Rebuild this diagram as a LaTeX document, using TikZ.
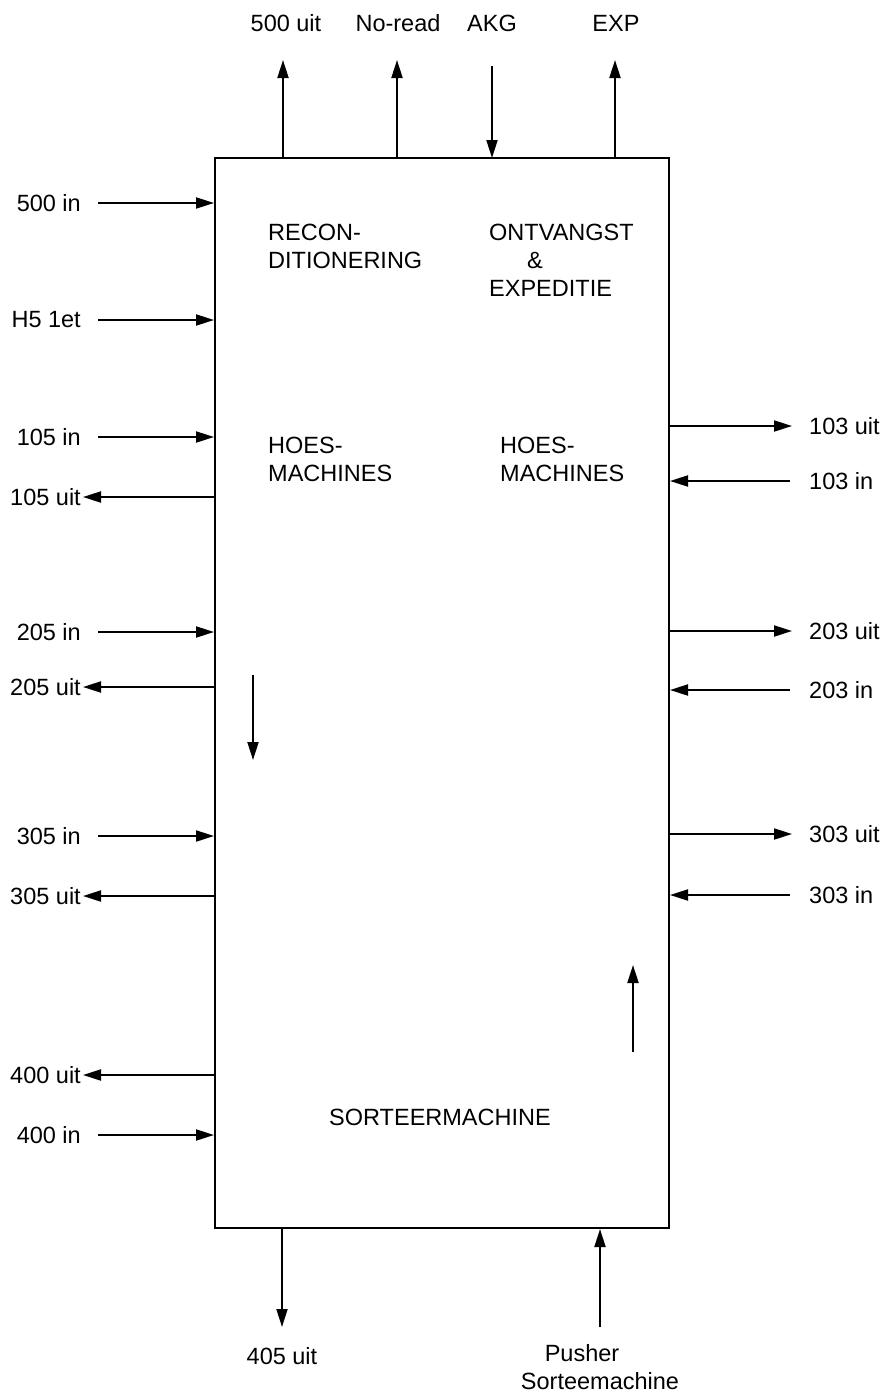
\documentclass[tikz,border=0pt]{standalone}
\usepackage{fontspec}
\setmainfont{Liberation Sans}
\usetikzlibrary{arrows.meta}
\begin{document}
\begin{tikzpicture}[x=1pt,y=-1pt,
  lbl/.style={font=\fontsize{23.5}{28}\selectfont, inner sep=0pt},
  blk/.style={lbl, align=left, anchor=north west},
  arr/.style={line width=2pt,-{Triangle[length=18pt,width=11pt]}},
  ]
\useasboundingbox (0,0) rectangle (887,1392);
\node[draw, line width=2pt, minimum width=454pt, minimum height=1070pt, inner sep=0pt] (box) at (442,693) {};

% block texts
\node[blk] (recon) at (268,224) {RECON-\\DITIONERING};
\node[blk] (ontv) at (489,224) {ONTVANGST\\\hspace*{38pt}\&\\EXPEDITIE};
\node[blk] (hoesl) at (268,437) {HOES-\\MACHINES};
\node[blk] (hoesr) at (500,437) {HOES-\\MACHINES};
\node[lbl] (sort) at (440,1117) {SORTEERMACHINE};

% top
\node[lbl] (t1) at (286,23) {500 uit};
\node[lbl] (t2) at (398,23) {No-read};
\node[lbl] (t3) at (492,23) {AKG};
\node[lbl] (t4) at (616,23) {EXP};
\draw[arr] (283,158) -- (283,60);
\draw[arr] (397,158) -- (397,60);
\draw[arr] (492,66) -- (492,158);
\draw[arr] (615,158) -- (615,60);

% left side
\foreach \n/\t/\y in {a/500 in/203, b/H5 1et/320, c/105 in/437, d/105 uit/497,
  e/205 in/632, f/205 uit/687, g/305 in/836, h/305 uit/896, i/400 uit/1075, j/400 in/1135}{
  \node[lbl, anchor=east] (L\n) at (81,\y) {\t};
}
\foreach \n in {a,b,c,e,g,j}{\draw[arr] ([xshift=17pt]L\n.east) -- (L\n.east -| box.west);}
\foreach \n in {d,f,h,i}{\draw[arr] (L\n.east -| box.west) -- ([xshift=2pt]L\n.east);}

% right side
\foreach \n/\t/\y in {a/103 uit/426, b/103 in/481, c/203 uit/631, d/203 in/690, e/303 uit/834, f/303 in/895}{
  \node[lbl, anchor=west] (R\n) at (809,\y) {\t};
}
\foreach \n in {a,c,e}{\draw[arr] (R\n.west -| box.east) -- ([xshift=-17pt]R\n.west);}
\foreach \n in {b,d,f}{\draw[arr] ([xshift=-19pt]R\n.west) -- (R\n.west -| box.east);}

% bottom
\node[lbl] (b1) at (282,1356) {405 uit};
\node[lbl, align=center] (b2) at (600,1367) {Pusher\hspace*{36pt}\\Sorteemachine};
\draw[arr] (b1 |- box.south) -- (282,1327);
\draw[arr] (600,1327) -- (b2 |- box.south);

% internal flow arrows
\draw[arr] (253,675) -- (253,760);
\draw[arr] (633,1052) -- (633,965);
\end{tikzpicture}
\end{document}
